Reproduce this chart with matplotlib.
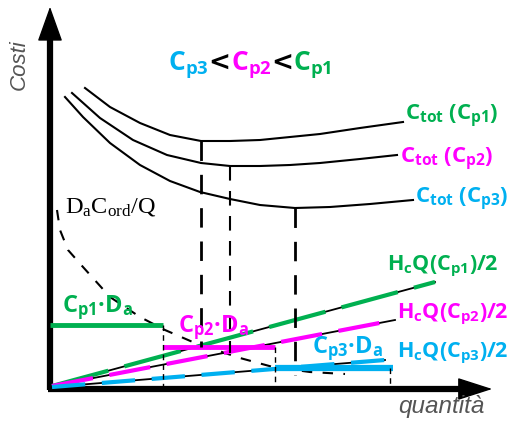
import matplotlib
matplotlib.use("Agg")
import matplotlib.pyplot as plt
from matplotlib.offsetbox import TextArea, HPacker, AnnotationBbox

GREEN = "#00B050"
MAGENTA = "#FF00FF"
CYAN = "#00B0F0"
GREY = "#555555"

plt.rcParams.update({
    "mathtext.fontset": "custom",
    "mathtext.rm": "Liberation Serif",
    "mathtext.it": "Liberation Serif:italic",
    "mathtext.bf": "Open Sans:bold",
})

# total cost curves C_tot(Q), one per purchase price (Cp1 > Cp2 > Cp3)
q_tot1 = [35, 60, 90, 120, 151, 180, 210, 240, 270, 310, 353]
c_tot1 = [300, 281, 265, 253, 247, 247, 248, 251, 254, 260, 266]
q_tot2 = [22, 50, 83, 117, 151, 180, 210, 240, 270, 310, 347]
c_tot2 = [295, 270, 248, 233, 225, 222, 222, 223, 225, 229, 233]
q_tot3 = [15, 33, 60, 90, 120, 150, 180, 210, 245, 280, 320, 363]
c_tot3 = [291, 271, 245, 223, 207, 196, 189, 183, 180, 181, 184, 188]

# ordering cost Da*Cord/Q
q_ord = [7, 10, 18, 33, 60, 90, 115, 145, 190, 223, 260, 295]
c_ord = [178, 158, 138, 121, 91, 71, 58, 45, 30, 21, 16, 14]

# holding cost lines Hc*Q/2
hold_q1, hold_c1 = [2, 385], [2, 106]
hold_q2, hold_c2 = [2, 345], [2, 68]
hold_q3, hold_c3 = [2, 335], [1, 28]

# purchase cost Cp*Da over each quantity band
cpda_level = [63, 41, 20]
cpda_from = [0, 113, 225]
cpda_to = [113, 225, 343]

# optimum quantities and the band limits
eoq_q = [151, 180, 245]
eoq_top = [247, 222, 180]
eoq_bottom = [41, 35, 13]
band_q = [113, 225, 340]
band_top = [63, 41, 20]

fig = plt.figure(figsize=(5.21, 4.21), dpi=100)
ax = fig.add_axes([0, 0, 1, 1])
ax.set_xlim(-50, 471)
ax.set_ylim(-33, 388)
ax.axis("off")

# axes with arrow heads
ax.plot([0, 0], [-2, 362], color="black", lw=4.5, solid_capstyle="butt")
ax.plot([-2, 425], [-1, -1], color="black", lw=4.5, solid_capstyle="butt")
ax.annotate("", xy=(0, 384), xytext=(0, 360),
            arrowprops=dict(arrowstyle="-|>,head_length=1.4,head_width=0.5",
                            color="black", lw=1, mutation_scale=16))
ax.annotate("", xy=(445, -1), xytext=(422, -1),
            arrowprops=dict(arrowstyle="-|>,head_length=1.4,head_width=0.45",
                            color="black", lw=1, mutation_scale=16))
ax.text(-31, 323, "Costi", rotation=90, ha="center", va="center",
        fontsize=16, style="italic", color=GREY, family="Liberation Sans")
ax.text(391, -18, "quantità", ha="center", va="center",
        fontsize=17.5, style="italic", color=GREY, family="Liberation Sans")

for q, c in [(q_tot1, c_tot1), (q_tot2, c_tot2), (q_tot3, c_tot3)]:
    ax.plot(q, c, color="black", lw=1.5)

ax.plot(q_ord, c_ord, color="black", lw=1.5, dashes=(5, 5))

for q, c, col, dsh in [(hold_q1, hold_c1, GREEN, (14, 4)),
                       (hold_q2, hold_c2, MAGENTA, (10, 4)),
                       (hold_q3, hold_c3, CYAN, (8, 4))]:
    ax.plot(q, c, color="black", lw=1.3)
    ax.plot(q, c, color=col, lw=3, dashes=dsh)

for lvl, q0, q1, col, lw in zip(cpda_level, cpda_from, cpda_to,
                                [GREEN, MAGENTA, CYAN], [3.5, 3.5, 4.5]):
    ax.plot([q0, q1], [lvl, lvl], color=col, lw=lw, solid_capstyle="butt")

for q, top, bot, lw in zip(eoq_q, eoq_top, eoq_bottom, [2, 1.5, 2]):
    ax.plot([q, q], [top, bot], color="black", lw=lw, dashes=(7, 5))
for q, top in zip(band_q, band_top):
    ax.plot([q, q], [top, 0], color="black", lw=1, dashes=(4, 3))

# labels
lab = dict(ha="left", va="baseline")
ax.text(355, 268, r"$\mathbf{C_{tot}\ (C_{p1})}$", color=GREEN, fontsize=16, **lab)
ax.text(350, 225, r"$\mathbf{C_{tot}\ (C_{p2})}$", color=MAGENTA, fontsize=16, **lab)
ax.text(365, 185, r"$\mathbf{C_{tot}\ (C_{p3})}$", color=CYAN, fontsize=16, **lab)
ax.text(15, 175, r"$\mathrm{D_aC_{ord}/Q}$", color="black", fontsize=17.5, **lab)
ax.text(12, 76, "$\\mathbf{C_{p1}\u00b7D_a}$", color=GREEN, fontsize=17, **lab)
ax.text(128, 56, "$\\mathbf{C_{p2}\u00b7D_a}$", color=MAGENTA, fontsize=17, **lab)
ax.text(262, 35, "$\\mathbf{C_{p3}\u00b7D_a}$", color=CYAN, fontsize=17, **lab)
ax.text(337, 118, r"$\mathbf{H_cQ(C_{p1})/2}$", color=GREEN, fontsize=15.5, **lab)
ax.text(347, 70, r"$\mathbf{H_cQ(C_{p2})/2}$", color=MAGENTA, fontsize=15.5, **lab)
ax.text(347, 31, r"$\mathbf{H_cQ(C_{p3})/2}$", color=CYAN, fontsize=15.5, **lab)

# price ordering headline
pieces = [(r"$\mathbf{C_{p3}}$", CYAN), ("<", "black"), (r"$\mathbf{C_{p2}}$", MAGENTA),
          ("<", "black"), (r"$\mathbf{C_{p1}}$", GREEN)]
boxes = [TextArea(s, textprops=dict(color=c, fontsize=19, fontweight="bold",
                                    family="DejaVu Sans")) for s, c in pieces]
row = HPacker(children=boxes, align="baseline", pad=0, sep=0)
ax.add_artist(AnnotationBbox(row, (200, 323), frameon=False,
                             box_alignment=(0.5, 0.5)))

fig.savefig("out.png", dpi=100)
